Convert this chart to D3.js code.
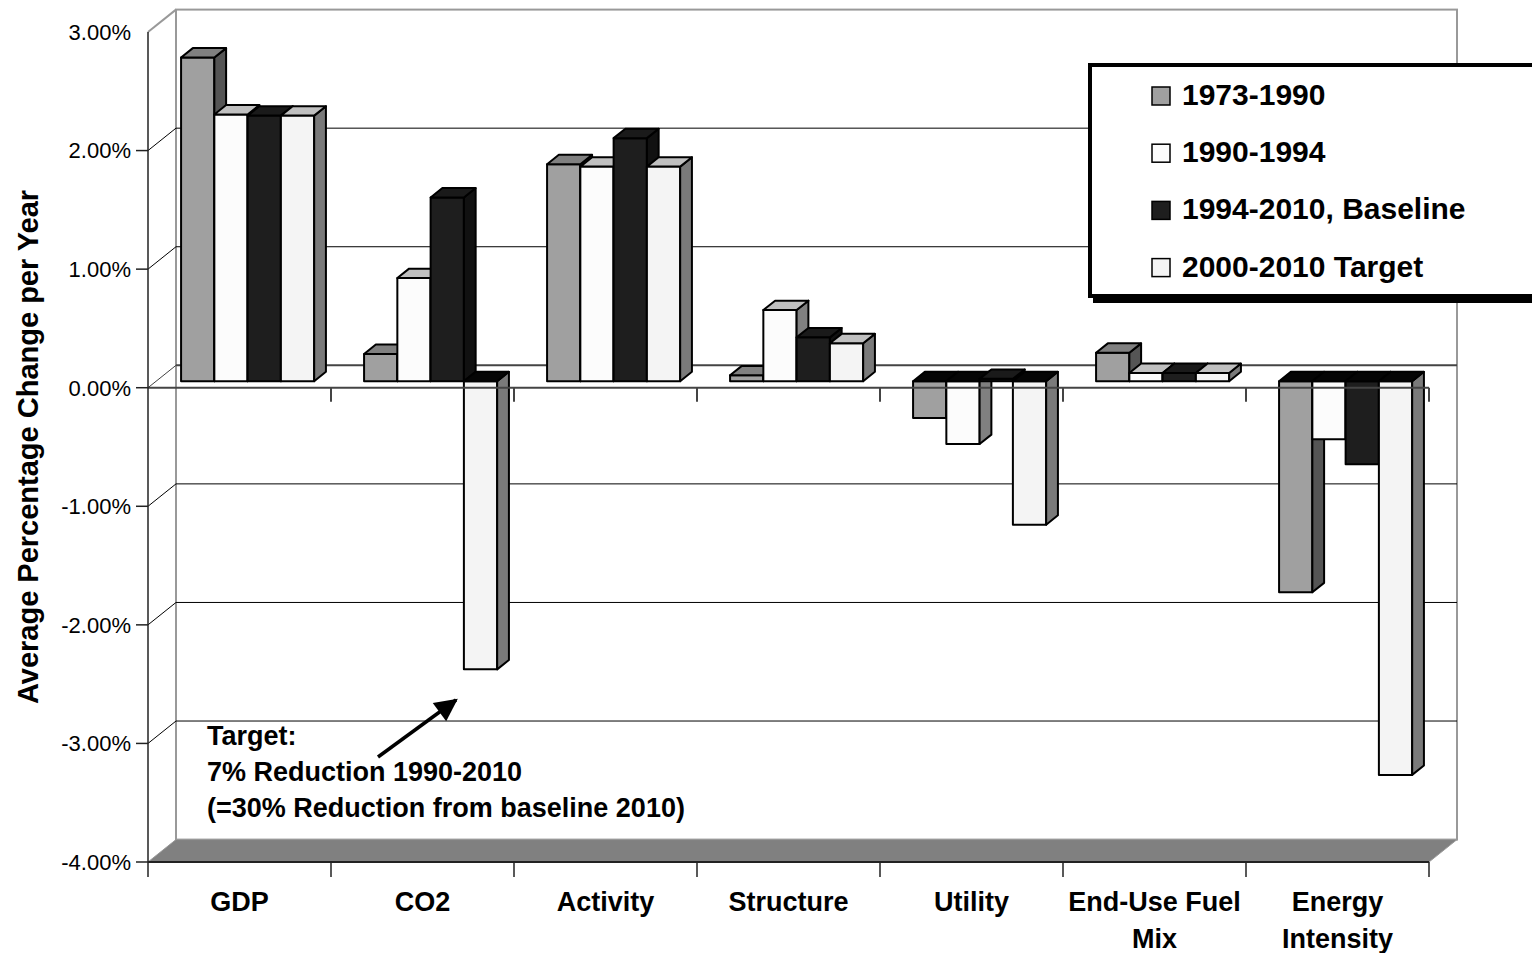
<!DOCTYPE html>
<meta charset="utf-8">
<style>
	body { margin: 0; background: #fff; }
	svg { display: block; font-family: Arial, "Liberation Sans", sans-serif; }
	.tick-label { font-size: 22px; fill: #000; text-anchor: end; }
	.cat-label { font-size: 27px; font-weight: bold; text-anchor: middle; fill: #000; }
	.title { font-size: 29px; font-weight: bold; text-anchor: middle; fill: #000; }
	.note { font-size: 27px; font-weight: bold; fill: #000; }
	.legend text { font-size: 30px; font-weight: bold; fill: #000; }
</style>
<body>
<script src="https://d3js.org/d3.v7.min.js"></script>
<script>

	var categories = ["GDP", "CO2", "Activity", "Structure", "Utility", "End-Use Fuel Mix", "Energy Intensity"];
	var categoryLines = [["GDP"], ["CO2"], ["Activity"], ["Structure"], ["Utility"], ["End-Use Fuel", "Mix"], ["Energy", "Intensity"]];
	var seriesNames = ["1973-1990", "1990-1994", "1994-2010, Baseline", "2000-2010 Target"];

	var s1973 = [2.73, 0.23, 1.83, 0.05, -0.31, 0.24, -1.78];
	var s1990 = [2.25, 0.87, 1.81, 0.60, -0.53, 0.07, -0.49];
	var s1994 = [2.24, 1.55, 2.05, 0.37, 0.02, 0.07, -0.70];
	var s2000 = [2.24, -2.43, 1.81, 0.32, -1.21, 0.07, -3.32];

	var yTicks = [3, 2, 1, 0, -1, -2, -3, -4];
	var noteLines = ["Target:", "7% Reduction 1990-2010", "(=30% Reduction from baseline 2010)"];

	var series = [s1973, s1990, s1994, s2000];

	// front, top, side shades for each series
	var fronts = ["#a0a0a0", "#fcfcfc", "#1e1e1e", "#f4f4f4"];
	var tops = ["#808080", "#c0c0c0", "#1a1a1a", "#c0c0c0"];
	var sides = ["#555555", "#808080", "#111111", "#7a7a7a"];

	var width = 1532, height = 953;
	var depth = [28, -22.4];     // offset of the back wall
	var barZ = 0.29, barD = 0.42; // bar position / thickness inside the depth

	var svg = d3.select("body").append("svg")
		.attr("width", width)
		.attr("height", height);

	var y = d3.scaleLinear().domain([-4, 3]).range([862, 32]);
	var x = d3.scaleBand().domain(categories).range([148, 1429]);
	var xs = d3.scaleBand().domain(seriesNames).range([0, x.bandwidth()])
		.paddingInner(0).paddingOuter(0.75);

	var left = x.range()[0], right = x.range()[1];
	var bx = left + depth[0], bright = right + depth[0];

	// back wall
	svg.append("rect")
		.attr("x", bx).attr("y", y(3) + depth[1])
		.attr("width", bright - bx).attr("height", y(-4) - y(3))
		.attr("fill", "#fff").attr("stroke", "#999").attr("stroke-width", 2);

	svg.append("line")
		.attr("x1", left).attr("y1", y(3)).attr("x2", bx).attr("y2", y(3) + depth[1])
		.attr("stroke", "#999").attr("stroke-width", 2);

	// gridlines on back wall and side wall
	var grid = svg.append("g");
	yTicks.filter(function(t) { return t > -4 && t < 3; }).forEach(function(t) {
		var c = t === 0 ? "#444" : "#000", w = t === 0 ? 2 : 1;
		grid.append("line")
			.attr("x1", bx).attr("x2", bright)
			.attr("y1", y(t) + depth[1]).attr("y2", y(t) + depth[1])
			.attr("stroke", c).attr("stroke-width", w);
		grid.append("line")
			.attr("x1", left).attr("y1", y(t))
			.attr("x2", bx).attr("y2", y(t) + depth[1])
			.attr("stroke", c).attr("stroke-width", 1);
	});

	// floor
	svg.append("path")
		.attr("d", "M" + left + "," + y(-4) + "L" + right + "," + y(-4) +
			"L" + bright + "," + (y(-4) + depth[1]) + "L" + bx + "," + (y(-4) + depth[1]) + "Z")
		.attr("fill", "#808080").attr("stroke", "#999").attr("stroke-width", 1);

	// bars
	var bars = svg.append("g").attr("stroke", "#000").attr("stroke-width", 2).attr("stroke-linejoin", "round");
	var ox = depth[0] * barZ, oy = depth[1] * barZ;
	var dx = depth[0] * barD, dy = depth[1] * barD;

	categories.forEach(function(cat, ci) {
		series.forEach(function(vals, si) {
			var v = vals[ci];
			var x0 = x(cat) + xs(seriesNames[si]) + ox, x1 = x0 + xs.bandwidth();
			var yt = y(Math.max(v, 0)) + oy, yb = y(Math.min(v, 0)) + oy;
			var g = bars.append("g");
			g.append("rect")
				.attr("x", x0).attr("y", yt)
				.attr("width", x1 - x0).attr("height", yb - yt)
				.attr("fill", fronts[si]);
			g.append("path")
				.attr("d", "M" + x1 + "," + yt + "l" + dx + "," + dy + "L" + (x1 + dx) + "," + (yb + dy) + "L" + x1 + "," + yb + "Z")
				.attr("fill", sides[si]);
			g.append("path")
				.attr("d", "M" + x0 + "," + yt + "L" + x1 + "," + yt + "l" + dx + "," + dy + "L" + (x0 + dx) + "," + (yt + dy) + "Z")
				.attr("fill", v < 0 ? "#050505" : tops[si]);
		});
	});

	// category boundaries for tick marks
	var bounds = categories.map(function(c) { return x(c); }).concat([right]);

	// zero line at the front
	svg.append("line")
		.attr("x1", left).attr("x2", right).attr("y1", y(0)).attr("y2", y(0))
		.attr("stroke", "#444").attr("stroke-width", 2);
	svg.selectAll(".zt").data(bounds.slice(1)).enter().append("line")
		.attr("x1", function(d) { return d; }).attr("x2", function(d) { return d; })
		.attr("y1", y(0)).attr("y2", y(0) + 14)
		.attr("stroke", "#444").attr("stroke-width", 2);

	// bottom category axis
	svg.append("line")
		.attr("x1", left).attr("x2", right).attr("y1", y(-4)).attr("y2", y(-4))
		.attr("stroke", "#222").attr("stroke-width", 2);
	svg.selectAll(".bt").data(bounds).enter().append("line")
		.attr("x1", function(d) { return d; }).attr("x2", function(d) { return d; })
		.attr("y1", y(-4)).attr("y2", y(-4) + 15)
		.attr("stroke", "#222").attr("stroke-width", 1.5);

	// value axis
	svg.append("line")
		.attr("x1", left).attr("x2", left).attr("y1", y(3)).attr("y2", y(-4))
		.attr("stroke", "#222").attr("stroke-width", 1.5);
	svg.selectAll(".yt").data(yTicks.filter(function(t) { return t < 3; })).enter().append("line")
		.attr("x1", left - 12).attr("x2", left)
		.attr("y1", function(d) { return y(d); }).attr("y2", function(d) { return y(d); })
		.attr("stroke", "#222").attr("stroke-width", 1.5);

	svg.selectAll(".tick-label").data(yTicks).enter().append("text")
		.attr("class", "tick-label")
		.attr("x", 131)
		.attr("y", function(d) { return y(d); })
		.attr("dy", ".36em")
		.text(function(d) { return d.toFixed(2) + "%"; });

	svg.append("text")
		.attr("class", "title")
		.attr("transform", "translate(38,447) rotate(-90)")
		.text("Average Percentage Change per Year");

	// category labels
	var cl = svg.selectAll(".cat-label").data(categories).enter().append("text")
		.attr("class", "cat-label")
		.attr("x", function(d) { return x(d) + x.bandwidth() / 2; })
		.attr("y", 911);
	cl.selectAll("tspan").data(function(d, i) { return categoryLines[i]; }).enter().append("tspan")
		.attr("x", function() { return d3.select(this.parentNode).attr("x"); })
		.attr("dy", function(d, i) { return i ? 37 : 0; })
		.text(function(d) { return d; });

	// annotation
	svg.selectAll(".note").data(noteLines).enter().append("text")
		.attr("class", "note")
		.attr("x", 207)
		.attr("y", function(d, i) { return 745 + i * 36; })
		.text(function(d) { return d; });

	svg.append("defs").append("marker")
		.attr("id", "head").attr("viewBox", "0 0 10 10")
		.attr("refX", 9).attr("refY", 5)
		.attr("markerWidth", 7).attr("markerHeight", 6.5)
		.attr("orient", "auto")
		.append("path").attr("d", "M0,0L10,5L0,10Z").attr("fill", "#000");

	svg.append("line")
		.attr("x1", 378).attr("y1", 757).attr("x2", 456).attr("y2", 700)
		.attr("stroke", "#000").attr("stroke-width", 3.5)
		.attr("marker-end", "url(#head)");

	// legend
	var legend = svg.append("g").attr("class", "legend");
	legend.append("rect")
		.attr("x", 1093).attr("y", 68).attr("width", 460).attr("height", 235)
		.attr("fill", "#000");
	legend.append("rect")
		.attr("x", 1090).attr("y", 65).attr("width", 460).attr("height", 231)
		.attr("fill", "#fff").attr("stroke", "#000").attr("stroke-width", 4);

	var item = legend.selectAll(".item").data(seriesNames).enter().append("g")
		.attr("class", "item")
		.attr("transform", function(d, i) { return "translate(1152," + (105 + i * 57.2) + ")"; });
	item.append("rect")
		.attr("x", 0).attr("y", -18).attr("width", 18).attr("height", 18)
		.attr("fill", function(d, i) { return fronts[i]; })
		.attr("stroke", "#000").attr("stroke-width", 1.5);
	item.append("text")
		.attr("x", 30).attr("y", 0)
		.text(function(d) { return d; });
</script>
</body>
